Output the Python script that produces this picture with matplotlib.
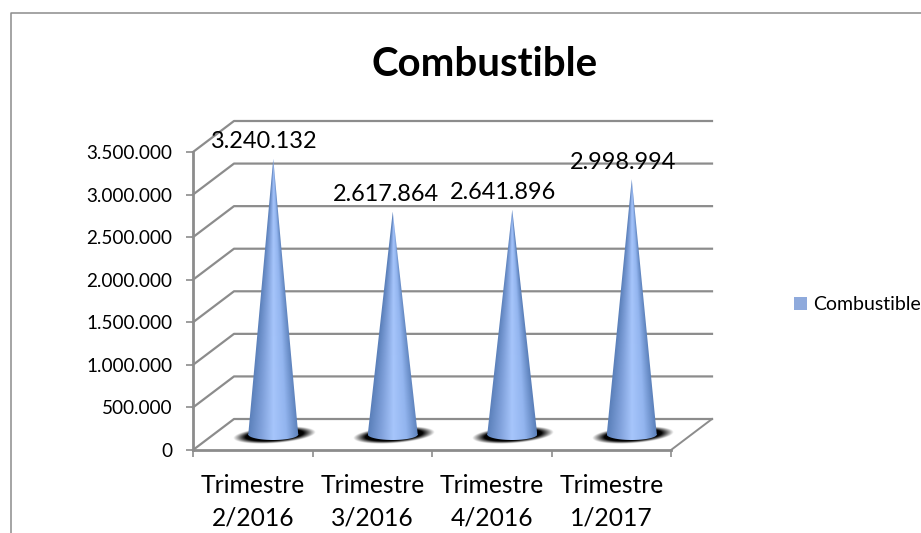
import numpy as np
import matplotlib
matplotlib.use('Agg')
import matplotlib.pyplot as plt
from matplotlib.colors import LinearSegmentedColormap
from matplotlib.patches import Patch, PathPatch
from matplotlib.path import Path
from matplotlib.lines import Line2D

categories = ['Trimestre\n2/2016', 'Trimestre\n3/2016', 'Trimestre\n4/2016', 'Trimestre\n1/2017']
values = [3240132, 2617864, 2641896, 2998994]
value_labels = ['3.240.132', '2.617.864', '2.641.896', '2.998.994']
y_ticks = [0, 500000, 1000000, 1500000, 2000000, 2500000, 3000000, 3500000]
y_tick_labels = ['0', '500.000', '1.000.000', '1.500.000', '2.000.000', '2.500.000', '3.000.000', '3.500.000']
series_name = 'Combustible'

GRAY = '#8c8c8c'
W, H = 921, 533

plt.rcParams['font.family'] = ['Lato', 'DejaVu Sans']
fig = plt.figure(figsize=(W / 100, H / 100), dpi=100)
fig.patch.set_facecolor('white')

# outer chart frame
fig.add_artist(Line2D([10.5 / W, 10.5 / W, 1], [0, 1 - 12.5 / H, 1 - 12.5 / H], color=GRAY, lw=1.1))

ax = fig.add_axes([193 / W, 1 - 450 / H, (671 - 193) / W, (450 - 152) / H])
ax.patch.set_alpha(0)
ax.set_xlim(0, len(categories))
ax.set_ylim(0, 3500000)

# depth of the fake 3d box, in data units
depth_x = 41 / (478 / 4)
depth_y = 31 / 298 * 3500000

for t in y_ticks:
    ax.plot([0, depth_x, 4 + depth_x], [t, t + depth_y, t + depth_y], color=GRAY, lw=1.6, clip_on=False, zorder=1)
ax.plot([4, 4 + depth_x], [0, depth_y], color=GRAY, lw=1.4, clip_on=False, zorder=1)

for s in ['top', 'right']:
    ax.spines[s].set_visible(False)
for s in ['left', 'bottom']:
    ax.spines[s].set_color(GRAY)
    ax.spines[s].set_linewidth(2)
    ax.spines[s].set_zorder(2)

ax.set_yticks(y_ticks)
ax.set_yticklabels(y_tick_labels, fontsize=13.6, color='black')
ax.set_xticks(range(len(categories) + 1))
ax.set_xticklabels([])
ax.set_xticks([i + 0.5 for i in range(len(categories))], minor=True)
ax.set_xticklabels(categories, minor=True, fontsize=17.7, linespacing=1.5)
ax.tick_params(axis='both', which='major', color=GRAY, width=1.2, length=5)
ax.tick_params(axis='x', which='minor', length=0, pad=17)
ax.tick_params(axis='y', pad=10)

cone_map = LinearSegmentedColormap.from_list('cone', ['#5b80ba', '#7fa0da', '#a6c5fb', '#93b5ef', '#5b80ba'])

half_w = 25 / (478 / 4)
ell_h = 5.5 / 298 * 3500000
sh_w = 41 / (478 / 4)
sh_h = 10 / 298 * 3500000

# blurred shadow on the floor and shaded cone for each category
for i, v in enumerate(values):
    cx = i + 0.5 + depth_x / 2
    cy = depth_y / 2

    xx, yy = np.meshgrid(np.linspace(-1, 1, 160), np.linspace(-1, 1, 60))
    r = np.sqrt(xx ** 2 + ((yy - 0.3 * xx) * 1.2) ** 2)
    rgba = np.zeros(xx.shape + (4,))
    rgba[..., 3] = np.clip((1 - r) / 0.3, 0, 1)
    ax.imshow(rgba, extent=[cx - sh_w + 0.01, cx + sh_w + 0.01, cy - sh_h, cy + sh_h], aspect='auto',
              origin='lower', zorder=3, clip_on=False, interpolation='bilinear')

    # shade follows the local width of the cone so the tip stays dark at the edges
    ux, uy = np.meshgrid(np.linspace(-1, 1, 200), np.linspace(0, 1, 400))
    local = np.maximum(1 - uy, 0.02)
    shade = np.clip((ux / local + 1) / 2, 0, 1)
    im = ax.imshow(shade, extent=[cx - half_w, cx + half_w, cy, v + cy], aspect='auto', origin='lower',
                   cmap=cone_map, vmin=0, vmax=1, zorder=4, interpolation='bilinear')
    im_low = ax.imshow(np.linspace(0, 1, 200).reshape(1, -1), extent=[cx - half_w, cx + half_w, cy - ell_h, cy],
                       aspect='auto', cmap=cone_map, vmin=0, vmax=1, zorder=4, interpolation='bilinear')
    theta = np.linspace(np.pi, 2 * np.pi, 30)
    verts = [(cx, cy + v)] + [(cx + half_w * np.cos(a), cy + ell_h * np.sin(a)) for a in theta] + [(cx, cy + v)]
    clip = PathPatch(Path(verts), transform=ax.transData, facecolor='none', edgecolor='none')
    ax.add_patch(clip)
    im.set_clip_path(clip)
    im_low.set_clip_path(clip)

ax.set_xlim(0, len(categories))
ax.set_ylim(0, 3500000)

# value labels sit above the cone tips
label_dx = [-7, -5, -6.5, -6.5]
for i, v in enumerate(values):
    ax.annotate(value_labels[i], (i + 0.5 + depth_x / 2, v + depth_y / 2),
                xytext=(label_dx[i], 4.5), textcoords='offset points',
                ha='center', va='bottom', fontsize=16.9, zorder=5, annotation_clip=False)

fig.text(485 / W, 1 - 65 / H, series_name, fontsize=29, fontweight='bold', ha='center', va='center')

fig.legend(handles=[Patch(facecolor='#8faadc', edgecolor='none', label=series_name)],
           loc='center left', bbox_to_anchor=(794 / W, 1 - 305 / H), frameon=False,
           fontsize=14, handlelength=0.66, handleheight=0.66, handletextpad=0.3, borderpad=0, borderaxespad=0)

fig.savefig('out.png', dpi=100)
